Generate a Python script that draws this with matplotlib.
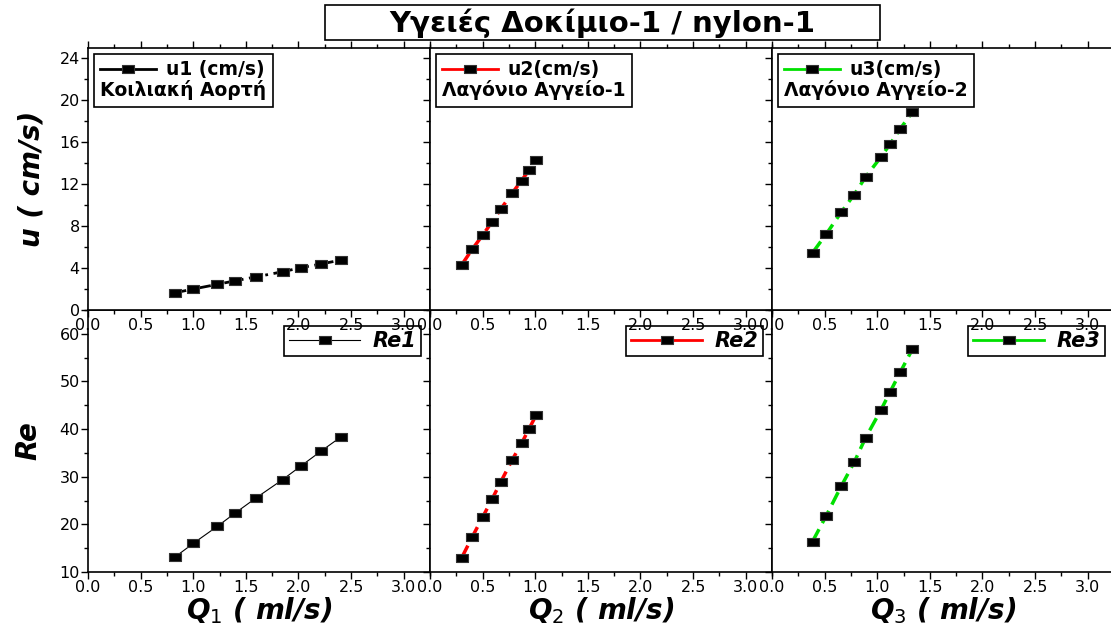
import matplotlib
matplotlib.use("Agg")
from matplotlib import pyplot as plt
from matplotlib.lines import Line2D
from matplotlib.patches import Rectangle
from matplotlib.ticker import MultipleLocator, FormatStrFormatter

plt.rcParams['font.family'] = ['DejaVu Sans']

# flows (ml/s)
q1 = [0.83, 1.0, 1.23, 1.4, 1.6, 1.85, 2.02, 2.21, 2.4]
q2 = [0.30, 0.40, 0.50, 0.59, 0.67, 0.78, 0.87, 0.94, 1.01]
q3 = [0.385, 0.515, 0.66, 0.78, 0.89, 1.035, 1.12, 1.22, 1.335]
# velocities (cm/s)
u1 = [1.65, 2.0, 2.45, 2.79, 3.17, 3.65, 4.03, 4.38, 4.76]
u2 = [4.29, 5.78, 7.14, 8.41, 9.59, 11.14, 12.35, 13.33, 14.29]
u3 = [5.46, 7.24, 9.36, 11.0, 12.7, 14.6, 15.8, 17.3, 18.9]
# Reynolds
re1 = [13.2, 16.0, 19.6, 22.4, 25.6, 29.4, 32.2, 35.3, 38.3]
re2 = [12.94, 17.3, 21.5, 25.3, 28.8, 33.5, 37.0, 40.0, 43.0]
re3 = [16.4, 21.8, 28.1, 33.0, 38.2, 44.0, 47.7, 52.0, 56.8]

u_names = ["u1 (cm/s)", "u2(cm/s)", "u3(cm/s)"]
vessels = ["Κοιλιακή Αορτή", "Λαγόνιο Αγγείο-1", "Λαγόνιο Αγγείο-2"]
re_names = ["Re1", "Re2", "Re3"]
q_labels = ["Q$_1$ ( ml/s)", "Q$_2$ ( ml/s)", "Q$_3$ ( ml/s)"]
colors = ["black", "red", "#00e000"]

Q = [q1, q2, q3]
U = [u1, u2, u3]
RE = [re1, re2, re3]

# wide rectangle marker (like the stretched squares of the original)
sq = [(-1.5, -1), (1.5, -1), (1.5, 1), (-1.5, 1), (-1.5, -1)]
mk = dict(marker=sq, ms=8.5, mfc='black', mec='#333333', mew=0.8)

fig = plt.figure(figsize=(11.11, 6.28), dpi=100)
W, H = 1111.0, 628.0
lefts = [88, 430, 772]
pw = 342

def style(ax, top, show_y):
    ax.set_xlim(0, 3.25)
    ax.xaxis.set_major_locator(MultipleLocator(0.5))
    ax.xaxis.set_minor_locator(MultipleLocator(0.25))
    ax.xaxis.set_major_formatter(FormatStrFormatter('%.1f'))
    if top:
        ax.set_ylim(0, 25)
        ax.yaxis.set_major_locator(MultipleLocator(4))
        ax.yaxis.set_minor_locator(MultipleLocator(2))
    else:
        ax.set_ylim(10, 65)
        ax.yaxis.set_major_locator(MultipleLocator(10))
        ax.yaxis.set_minor_locator(MultipleLocator(5))
    ax.tick_params(which='both', direction='out', top=True, right=False,
                   labelsize=11.5, pad=1)
    ax.tick_params(which='major', length=5, width=1)
    ax.tick_params(which='minor', length=3, width=1)
    ax.tick_params(axis='y', labelleft=show_y)
    for s in ax.spines.values():
        s.set_linewidth(1.2)

for i in range(3):
    # bottom row: Reynolds
    ax = fig.add_axes([lefts[i] / W, 1 - 572 / H, pw / W, 262 / H])
    style(ax, False, i == 0)
    if i == 0:
        ax.plot(Q[i], RE[i], color=colors[i], lw=0.8, **mk)
        hl = 0.8
    else:
        ax.plot(Q[i], RE[i], color=colors[i], lw=2.5, dashes=[4, 2], **mk)
        hl = 2
    h = Line2D([], [], color=colors[i], lw=hl, **mk)
    leg = ax.legend([h], [re_names[i]], loc='upper right',
                    bbox_to_anchor=(0.975, 0.94),
                    prop={'weight': 'bold', 'style': 'italic', 'size': 15},
                    fancybox=False, edgecolor='black', framealpha=1,
                    handlelength=3.4, borderaxespad=0, borderpad=0.25,
                    handletextpad=0.6)
    leg.get_frame().set_linewidth(1.2)
    ax.set_xlabel(q_labels[i], fontsize=20, fontweight='bold',
                  fontstyle='italic', labelpad=0)
    if i == 0:
        ax.set_ylabel("Re", fontsize=20, fontweight='bold',
                      fontstyle='italic', labelpad=12)

    # top row: velocity
    ax = fig.add_axes([lefts[i] / W, 1 - 310 / H, pw / W, 262 / H])
    ax.set_zorder(3)
    style(ax, True, i == 0)
    if i == 0:
        ax.plot(Q[i], U[i], color=colors[i], lw=2, dashes=[4, 2, 1, 2], **mk)
    else:
        ax.plot(Q[i], U[i], color=colors[i], lw=2.5, dashes=[4, 2], **mk)
    h = Line2D([], [], color=colors[i], lw=2, **mk)
    leg = ax.legend([h], [u_names[i]], loc='upper left', title=vessels[i],
                    prop={'weight': 'bold', 'size': 13.5},
                    title_fontproperties={'weight': 'bold', 'size': 13.5},
                    alignment='left', fancybox=False, edgecolor='black',
                    framealpha=1, handlelength=3.0, borderaxespad=0.3,
                    borderpad=0.35, labelspacing=0.05, handletextpad=0.5)
    leg.get_frame().set_linewidth(1.2)
    leg._legend_box._children = [leg._legend_handle_box, leg._legend_title_box]
    if i == 0:
        ax.set_ylabel("u ( cm/s)", fontsize=20, fontweight='bold',
                      fontstyle='italic', labelpad=10)

# title box
fig.add_artist(Rectangle((325 / W, 1 - 40 / H), 555 / W, 35 / H,
                         transform=fig.transFigure, fc='white', ec='black',
                         lw=1.2))
fig.text(602 / W, 1 - 23 / H, "Υγειές Δοκίμιο-1 / nylon-1", ha='center',
         va='center', fontsize=21, fontweight='bold')

fig.savefig("out.png", dpi=100)
